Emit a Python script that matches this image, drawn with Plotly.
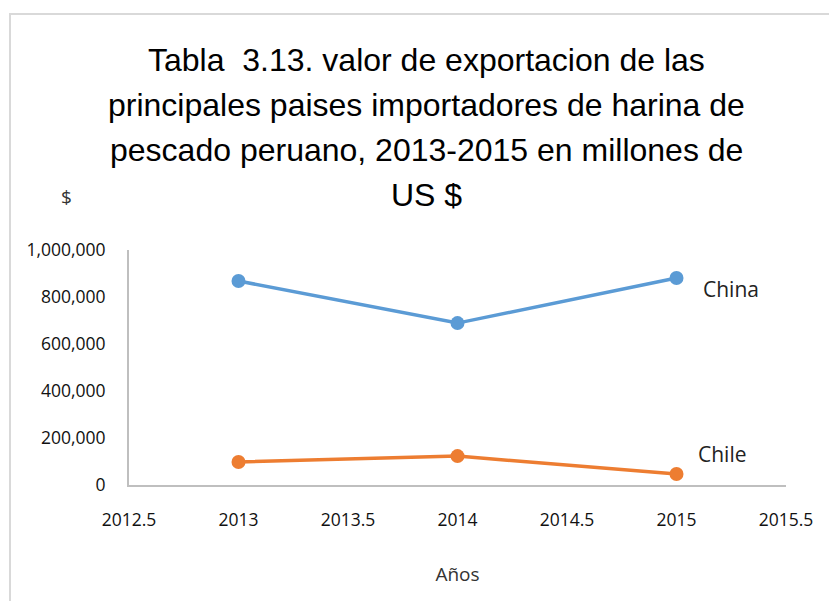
import plotly.graph_objects as go

years = [2013, 2014, 2015]
china = [868000, 689000, 881000]
chile = [98000, 123000, 47000]
x_ticks = [2012.5, 2013, 2013.5, 2014, 2014.5, 2015, 2015.5]
x_tick_labels = ["2012.5", "2013", "2013.5", "2014", "2014.5", "2015", "2015.5"]
y_ticks = [0, 200000, 400000, 600000, 800000, 1000000]
y_tick_labels = ["0", "200,000", "400,000", "600,000", "800,000", "1,000,000"]

title_lines = ["Tabla  3.13. valor de exportacion de las",
               "principales paises importadores de harina de",
               "pescado peruano, 2013-2015 en millones de",
               "US $"]
title_centers_px = [60, 105, 150, 195]

L, R, T, B = 129, 43, 250, 116
W, H = 829, 601
PW, PH = W - L - R, H - T - B


def px_to_paper(px, py):
    return (px - L) / PW, (H - B - py) / PH


sans = "Open Sans, Noto Sans, sans-serif"
tick_font = dict(family=sans, size=17.5, color="#111")

fig = go.Figure()
fig.add_trace(go.Scatter(x=years, y=china, mode="lines+markers", name="China",
                         line=dict(color="#5B9BD5", width=3.5), marker=dict(size=14, color="#5B9BD5")))
fig.add_trace(go.Scatter(x=years, y=chile, mode="lines+markers", name="Chile",
                         line=dict(color="#ED7D31", width=3.5), marker=dict(size=14, color="#ED7D31")))

fig.add_annotation(x=2015.11, y=china[2] - 45000, xref="x", yref="y", text="China", showarrow=False,
                   xanchor="left", font=dict(family=sans, size=21, color="#222"))
fig.add_annotation(x=2015.09, y=chile[2] + 85000, xref="x", yref="y", text="Chile", showarrow=False,
                   xanchor="left", font=dict(family=sans, size=21, color="#222"))

for line, cy in zip(title_lines, title_centers_px):
    px, py = px_to_paper(426, cy)
    fig.add_annotation(x=px, y=py, xref="paper", yref="paper", text=line, showarrow=False,
                       xanchor="center", yanchor="middle",
                       font=dict(family="Liberation Sans, Arial, sans-serif", size=32, color="#000"))

dx, dy = px_to_paper(66, 197)
fig.add_annotation(x=dx, y=dy, xref="paper", yref="paper", text="$", showarrow=False,
                   xanchor="center", yanchor="middle", font=dict(family=sans, size=19, color="#333"))

x0, y1 = px_to_paper(10, 14)
x1, y0 = px_to_paper(900, 700)
fig.add_shape(type="rect", xref="paper", yref="paper", x0=x0, x1=x1, y0=y0, y1=y1,
              line=dict(color="#D9D9D9", width=2), fillcolor="rgba(0,0,0,0)")

fig.update_layout(
    width=W, height=H,
    margin=dict(l=L, r=R, t=T, b=B),
    paper_bgcolor="white", plot_bgcolor="white",
    showlegend=False,
    xaxis=dict(range=[2012.5, 2015.5], tickvals=x_ticks, ticktext=x_tick_labels, showgrid=False,
               zeroline=False, showline=True, linecolor="#BFBFBF", linewidth=2, ticks="",
               tickfont=tick_font, ticklabelstandoff=18,
               title=dict(text="Años", font=dict(family=sans, size=19, color="#333"), standoff=38)),
    yaxis=dict(range=[0, 1000000], tickvals=y_ticks, ticktext=y_tick_labels, showgrid=False,
               zeroline=False, showline=True, linecolor="#BFBFBF", linewidth=2, ticks="",
               tickfont=tick_font, ticklabelstandoff=18),
)

fig.write_html("out.html", config={"displayModeBar": False},
               post_script="document.body.style.margin='0';")
